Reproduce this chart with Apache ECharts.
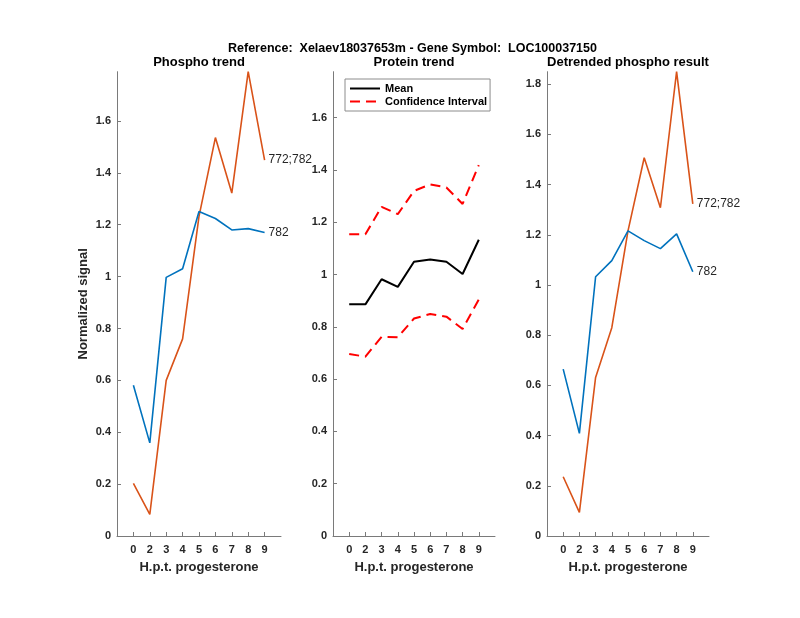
<!DOCTYPE html>
<html><head><meta charset="utf-8">
<script src="https://cdn.jsdelivr.net/npm/echarts@6/dist/echarts.min.js"></script>
<style>html,body{margin:0;padding:0;background:#fff}#c{width:800px;height:618px}</style>
</head><body><div id="c"></div><script>
// ---- data ----
const categories = ['0','2','3','4','5','6','7','8','9'];
const phospho772_782 = [0.203, 0.083, 0.600, 0.760, 1.232, 1.536, 1.322, 1.790, 1.449];
const phospho782     = [0.581, 0.359, 0.997, 1.030, 1.251, 1.224, 1.180, 1.185, 1.170];
const proteinMean    = [0.886, 0.886, 0.982, 0.953, 1.049, 1.058, 1.049, 1.002, 1.133];
const proteinUpper   = [1.154, 1.154, 1.259, 1.231, 1.320, 1.345, 1.333, 1.270, 1.419];
const proteinLower   = [0.696, 0.686, 0.762, 0.760, 0.832, 0.849, 0.839, 0.792, 0.905];
const detr772_782    = [0.236, 0.094, 0.632, 0.830, 1.216, 1.507, 1.308, 1.850, 1.323];
const detr782        = [0.665, 0.409, 1.033, 1.097, 1.216, 1.177, 1.145, 1.204, 1.053];
const panelTitles = ['Phospho trend', 'Protein trend', 'Detrended phospho result'];
const mainTitle = 'Reference:  Xelaev18037653m - Gene Symbol:  LOC100037150';
const xName = 'H.p.t. progesterone';
const yName = 'Normalized signal';

// ---- build ----
// axis slots: one empty slot before the first and after the last category
const axisCats = [''].concat(categories, ['']);
const inner = i => i > 0 && i < axisCats.length - 1;
const pts = arr => categories.map((c, i) => [i + 1, arr[i]]);
const FONT = 'Liberation Sans, Arial, Helvetica, sans-serif';
const TXT = '#262626';
const AX = '#7a7a7a';
const BLUE = '#0072BD', ORANGE = '#D95319';

const grids = [
  {left: 117, top: 71.7, width: 164, height: 464.3},
  {left: 333, top: 71.7, width: 162, height: 464.3},
  {left: 547, top: 71.7, width: 162, height: 464.3}
];
const yMax = [1.79, 1.776, 1.85];

const xAxes = grids.map((g, i) => ({
  gridIndex: i, type: 'category', data: axisCats, boundaryGap: false,
  name: xName, nameLocation: 'middle', nameGap: 25,
  nameTextStyle: {fontFamily: FONT, fontSize: 13, fontWeight: 'bold', color: TXT},
  axisLine: {show: true, lineStyle: {color: AX, width: 1}},
  axisTick: {show: true, inside: true, length: 4, interval: inner, lineStyle: {color: AX}},
  axisLabel: {interval: inner,
    fontFamily: FONT, fontSize: 11, fontWeight: 'bold', color: TXT, margin: 8},
  splitLine: {show: false}
}));
const yAxes = grids.map((g, i) => ({
  gridIndex: i, type: 'value', min: 0, max: yMax[i], interval: 0.2,
  name: i === 0 ? yName : '', nameLocation: 'middle', nameGap: 27,
  nameTextStyle: {fontFamily: FONT, fontSize: 13, fontWeight: 'bold', color: TXT},
  axisLine: {show: true, lineStyle: {color: AX, width: 1}},
  axisTick: {show: true, inside: true, length: 4, lineStyle: {color: AX}},
  axisLabel: {showMaxLabel: false, formatter: v => String(+(+v).toFixed(1)),
    fontFamily: FONT, fontSize: 11, fontWeight: 'bold', color: TXT, margin: 6},
  splitLine: {show: false}
}));

const endLbl = {show: true, formatter: '{a}', color: TXT, fontFamily: FONT, fontSize: 12, distance: 4};
const mk = (name, arr, idx, color, extra) => Object.assign({
  type: 'line', name, data: pts(arr), xAxisIndex: idx, yAxisIndex: idx,
  symbol: 'none', silent: true, animation: false,
  lineStyle: {color, width: 1.6}, itemStyle: {color}
}, extra || {});

const dashed = {color: '#ff0000', width: 2, type: [10, 6]};
const series = [
  mk('772;782', phospho772_782, 0, ORANGE, {endLabel: endLbl}),
  mk('782', phospho782, 0, BLUE, {endLabel: endLbl}),
  mk('Mean', proteinMean, 1, '#000000', {lineStyle: {color: '#000', width: 2}}),
  mk('Confidence Interval', proteinUpper, 1, '#ff0000', {lineStyle: dashed}),
  mk('Confidence Interval', proteinLower, 1, '#ff0000', {lineStyle: dashed}),
  mk('772;782', detr772_782, 2, ORANGE, {endLabel: endLbl}),
  mk('782', detr782, 2, BLUE, {endLabel: endLbl})
];

const titles = [{text: mainTitle, left: 412.5, top: 42, textAlign: 'center', padding: 0,
  textStyle: {fontFamily: FONT, fontSize: 12.5, fontWeight: 'bold', color: '#000'}}]
  .concat(grids.map((g, i) => ({text: panelTitles[i], left: g.left + g.width / 2, top: 56, textAlign: 'center', padding: 0,
    textStyle: {fontFamily: FONT, fontSize: 13, fontWeight: 'bold', color: '#000'}})));

const chart = echarts.init(document.getElementById('c'), null, {renderer: 'canvas'});
chart.setOption({
  backgroundColor: '#fff',
  animation: false,
  title: titles,
  grid: grids,
  xAxis: xAxes,
  yAxis: yAxes,
  legend: {
    data: ['Mean', 'Confidence Interval'], orient: 'vertical', left: 345, top: 79,
    itemWidth: 30, itemHeight: 12, itemGap: 2, padding: [4, 3, 4, 4],
    borderColor: '#8c8c8c', borderWidth: 1, backgroundColor: '#fff',
    itemStyle: {color: 'rgba(0,0,0,0)', borderWidth: 0, opacity: 0},
    textStyle: {fontFamily: FONT, fontSize: 11, fontWeight: 'bold', color: '#000'},
    selectedMode: false
  },
  series
});
</script></body></html>
